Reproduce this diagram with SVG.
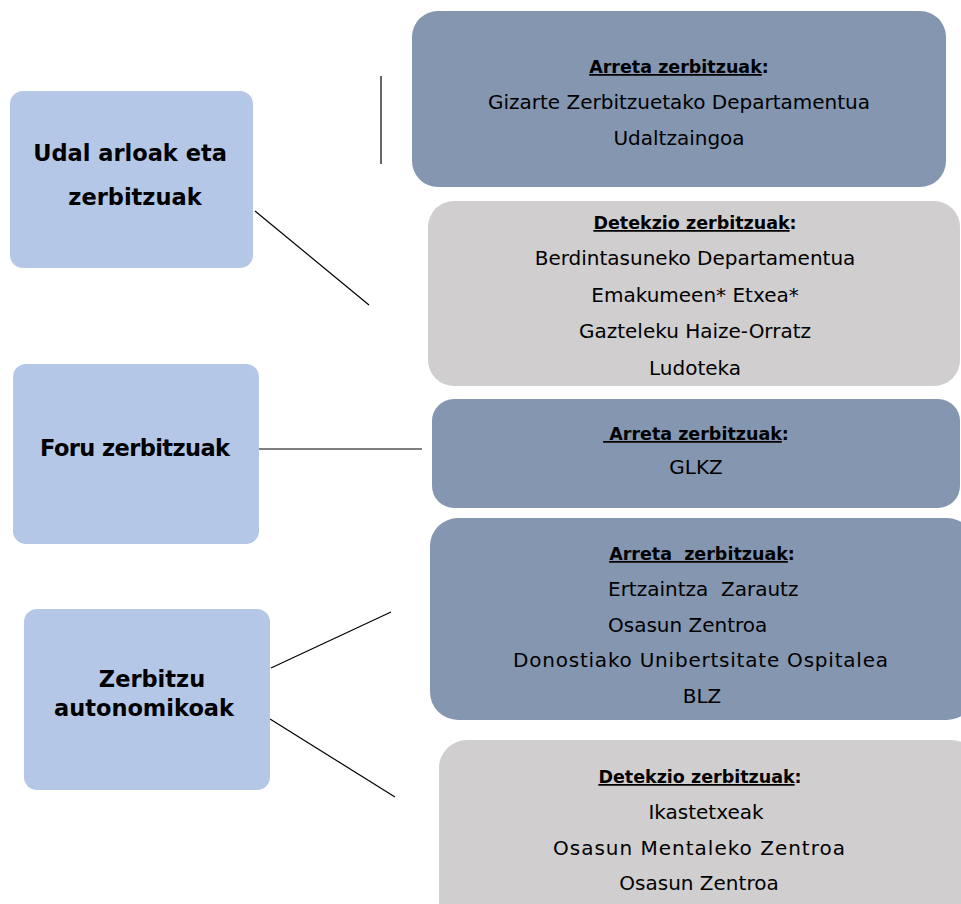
<svg xmlns="http://www.w3.org/2000/svg" width="961" height="904" viewBox="0 0 961 904">
<style>
.cat{fill:#B4C7E7}
.dark{fill:#8496B0}
.grey{fill:#D0CECE}
.lbl{font-family:"DejaVu Sans",Verdana,sans-serif;font-weight:bold;font-size:22.5px;fill:#000;text-anchor:middle}
.hd{font-family:"DejaVu Sans",Verdana,sans-serif;font-weight:bold;font-size:17.5px;fill:#000;text-anchor:middle}
.tx{font-family:"DejaVu Sans",Verdana,sans-serif;font-size:20px;fill:#000;text-anchor:middle}
.u{text-decoration:underline}
.ln{stroke:#000;stroke-width:1.2;fill:none}
</style>
<rect width="961" height="904" fill="#fff"/>
<g id="connectors">
<line class="ln" x1="381" y1="76" x2="381" y2="164"/>
<line class="ln" x1="255" y1="211" x2="369" y2="305"/>
<line class="ln" x1="258" y1="449" x2="422" y2="449"/>
<line class="ln" x1="271" y1="668" x2="391" y2="612"/>
<line class="ln" x1="270" y1="719" x2="395" y2="797"/>
</g>
<g id="udal">
<rect class="cat" x="10" y="91" width="243" height="177" rx="13"/>
<text class="lbl" x="130" y="161">Udal arloak eta</text>
<text class="lbl" x="135" y="205">zerbitzuak</text>
</g>
<g id="foru">
<rect class="cat" x="13" y="364" width="246" height="180" rx="13"/>
<text class="lbl" x="135" y="456" textLength="190">Foru zerbitzuak</text>
</g>
<g id="autonomikoak">
<rect class="cat" x="24" y="609" width="246" height="181" rx="13"/>
<text class="lbl" x="152" y="687">Zerbitzu</text>
<text class="lbl" x="144" y="716">autonomikoak</text>
</g>
<g id="udal-arreta">
<rect class="dark" x="412" y="11" width="534" height="176" rx="26"/>
<text class="hd" x="679" y="73"><tspan class="u">Arreta zerbitzuak</tspan>:</text>
<text class="tx" x="679" y="109">Gizarte Zerbitzuetako Departamentua</text>
<text class="tx" x="679" y="145">Udaltzaingoa</text>
</g>
<g id="udal-detekzio">
<rect class="grey" x="428" y="201" width="532" height="185" rx="26"/>
<text class="hd" x="695" y="229"><tspan class="u">Detekzio zerbitzuak</tspan>:</text>
<text class="tx" x="695" y="265">Berdintasuneko Departamentua</text>
<text class="tx" x="695" y="302">Emakumeen* Etxea*</text>
<text class="tx" x="695" y="338">Gazteleku Haize-Orratz</text>
<text class="tx" x="695" y="375">Ludoteka</text>
</g>
<g id="foru-arreta">
<rect class="dark" x="432" y="399" width="528" height="109" rx="22"/>
<text class="hd" x="696" y="440" xml:space="preserve"><tspan class="u"> Arreta zerbitzuak</tspan>:</text>
<text class="tx" x="696" y="474">GLKZ</text>
</g>
<g id="auto-arreta">
<rect class="dark" x="430" y="518" width="545" height="202" rx="28"/>
<text class="hd" x="702" y="560" xml:space="preserve"><tspan class="u">Arreta  zerbitzuak</tspan>:</text>
<text class="tx" x="608" y="596" style="text-anchor:start" xml:space="preserve">Ertzaintza  Zarautz</text>
<text class="tx" x="608" y="632" style="text-anchor:start">Osasun Zentroa</text>
<text class="tx" x="513" y="667" style="text-anchor:start" textLength="375">Donostiako Unibertsitate Ospitalea</text>
<text class="tx" x="702" y="703">BLZ</text>
</g>
<g id="auto-detekzio">
<rect class="grey" x="439" y="740" width="540" height="190" rx="28"/>
<text class="hd" x="700" y="783"><tspan class="u">Detekzio zerbitzuak</tspan>:</text>
<text class="tx" x="706" y="819">Ikastetxeak</text>
<text class="tx" x="553" y="855" style="text-anchor:start" textLength="292">Osasun Mentaleko Zentroa</text>
<text class="tx" x="699" y="890">Osasun Zentroa</text>
</g>
</svg>
